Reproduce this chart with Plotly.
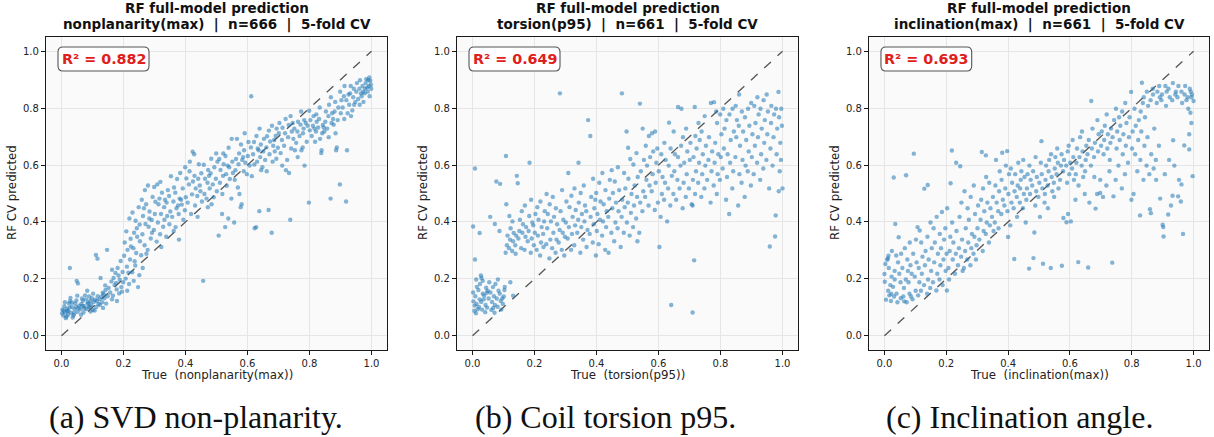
import plotly.graph_objects as go

# ---------------- data (per-mille units: (true, predicted)) ----------------
pts_a = [
(3,92),(6,71),(12,83),(9,104),(14,62),(17,95),(21,74),(24,113),(19,88),(27,121),(31,81),(33,102),(36,64),(29,133),(42,93),(44,114),(39,72),(47,101),(52,84),(48,124),(55,97),(51,141),(27,238),(49,193),(53,184),(2,79),(11,118),(22,86),(7,88),(16,68),(34,117),(41,79),(57,106),(26,99),
(61,93),(64,112),(66,131),(71,82),(73,104),(69,123),(76,142),(81,94),(84,113),(79,128),(86,117),(91,103),(93,122),(89,138),(96,109),(101,91),(98,132),(104,119),(102,148),(63,74),(83,158),(94,85),(74,96),(88,101),(108,127),(68,105),
(112,101),(114,122),(117,139),(111,284),(116,271),(122,128),(124,108),(126,203),(131,118),(133,151),(129,137),(138,132),(142,161),(144,113),(147,302),(149,139),(152,168),(134,98),(141,177),(107,89),(119,112),(136,146),
(157,152),(161,191),(163,128),(168,203),(171,178),(174,221),(166,141),(178,163),(181,238),(184,212),(179,122),(188,197),(191,263),(193,171),(186,149),(197,224),(199,188),(202,281),(204,328),(163,232),(176,186),(195,155),
(207,201),(211,243),(213,302),(209,367),(218,182),(221,268),(223,341),(219,412),(228,223),(232,308),(234,362),(229,433),(238,247),(241,291),(243,378),(239,404),(247,171),(251,213),(253,332),(249,452),(212,158),(224,314),(236,262),(244,348),(252,391),(216,222),(233,193),
(257,283),(261,357),(263,421),(259,478),(268,318),(271,393),(273,462),(269,512),(278,302),(281,383),(284,437),(279,528),(288,342),(291,407),(294,488),(298,372),(301,428),(303,471),(299,523),(262,238),(274,288),(292,362),(283,412),(266,448),
(307,331),(311,398),(313,462),(309,532),(318,357),(321,428),(324,503),(319,541),(328,383),(331,452),(334,478),(338,348),(341,421),(343,512),(339,468),(348,392),(351,437),(353,561),(347,491),(322,312),(332,408),(316,482),
(357,418),(361,472),(363,521),(368,382),(371,448),(373,551),(367,503),(378,428),(381,482),(383,572),(379,338),(388,461),(391,518),(393,408),(398,441),(401,487),(403,553),(399,592),(362,368),(386,478),(376,458),
(407,468),(411,532),(413,578),(418,428),(421,497),(423,647),(428,638),(431,458),(433,518),(429,562),(438,491),(441,552),(443,603),(439,418),(448,508),(451,571),(453,472),(414,612),(424,542),(446,528),
(457,193),(461,498),(463,552),(459,601),(468,482),(471,538),(473,583),(478,518),(481,571),(483,622),(488,532),(491,487),(493,592),(498,552),(501,508),(503,612),(499,641),(472,452),(484,462),(476,562),
(507,352),(511,538),(513,583),(509,621),(518,428),(521,562),(523,603),(519,498),(528,382),(531,568),(533,527),(529,632),(538,412),(541,592),(543,551),(539,661),(548,482),(551,612),(553,572),(549,692),(522,641),(536,598),
(557,398),(561,582),(563,621),(559,548),(566,692),(571,603),(573,641),(569,521),(578,452),(581,462),(583,618),(579,672),(588,578),(591,712),(593,608),(589,652),(598,568),(601,632),(603,681),(574,498),(586,628),
(612,842),(607,598),(611,662),(614,561),(618,638),(621,681),(623,378),(628,382),(631,612),(633,658),(629,702),(638,438),(641,628),(643,672),(639,728),(648,592),(651,648),(653,692),(622,602),(644,582),(636,652),
(657,618),(661,662),(663,701),(668,442),(671,638),(673,683),(669,721),(678,362),(681,612),(683,668),(679,738),(688,648),(691,702),(693,622),(698,661),(701,712),(703,748),(662,578),(694,728),(686,688),
(707,642),(711,688),(713,731),(718,668),(721,712),(723,762),(728,618),(731,698),(733,741),(738,408),(741,658),(743,718),(739,772),(748,692),(751,728),(753,652),(712,598),(724,582),(734,572),(746,748),
(757,678),(761,718),(763,752),(768,702),(771,742),(773,788),(778,662),(781,728),(783,758),(779,712),(788,748),(791,682),(798,468),(801,722),(803,758),(799,791),(762,628),(784,598),(774,652),(794,738),
(807,702),(811,738),(813,772),(818,682),(821,718),(823,752),(828,732),(831,762),(833,802),(838,642),(841,712),(843,741),(839,652),(848,718),(851,752),(853,788),(822,778),(834,692),(846,732),(816,728),
(857,728),(861,772),(863,812),(868,482),(871,748),(873,782),(869,838),(878,742),(881,788),(883,822),(888,662),(891,758),(893,802),(886,652),(898,532),(901,782),(903,828),(899,858),(862,698),(884,712),(876,762),
(907,802),(911,842),(913,878),(918,472),(921,652),(923,782),(919,828),(928,812),(931,852),(933,878),(938,792),(941,838),(943,868),(948,822),(951,858),(953,888),(912,762),(934,772),(926,848),(944,812),
(957,832),(961,868),(963,898),(968,842),(971,878),(973,858),(978,852),(981,888),(983,902),(979,868),(988,858),(991,878),(989,898),(993,908),(998,882),(996,896),(999,868),(962,812),(974,822),(986,872),(966,852),(994,842),
]

pts_b = [
(3,121),(6,88),(2,152),(11,79),(13,112),(9,139),(14,172),(12,198),(21,101),(23,128),(19,161),(24,182),(31,92),(28,119),(33,148),(29,203),(42,108),(38,141),(44,169),(41,83),(52,131),(49,158),(47,99),(54,188),(2,384),(8,268),(23,361),(8,588),(27,212),(33,193),(17,93),(36,128),(46,151),(7,106),
(61,91),(63,119),(58,152),(66,171),(72,108),(69,139),(74,182),(71,81),(81,102),(78,131),(84,158),(82,198),(91,122),(88,148),(93,92),(101,138),(98,112),(104,172),(57,418),(72,393),(87,368),(77,542),(89,534),(103,161),(96,131),(67,98),
(107,292),(111,318),(113,352),(109,462),(108,632),(118,308),(121,338),(123,378),(119,421),(128,298),(131,332),(133,361),(129,402),(138,318),(141,352),(143,562),(139,288),(148,342),(151,368),(153,408),(146,536),(131,141),(122,188),
(157,308),(161,362),(163,392),(159,438),(168,302),(171,348),(173,382),(169,458),(178,332),(181,368),(183,421),(184,608),(188,292),(191,342),(193,398),(189,478),(198,318),(201,362),(203,428),(196,388),
(207,302),(211,352),(213,408),(209,452),(218,282),(221,328),(223,382),(219,472),(228,358),(231,402),(233,438),(229,312),(238,322),(241,378),(243,428),(239,498),(248,272),(251,338),(253,402),(249,462),
(257,308),(261,362),(263,418),(259,488),(268,292),(271,338),(273,392),(269,448),(282,852),(278,328),(281,372),(284,438),(288,302),(291,362),(293,408),(289,512),(298,348),(301,398),(303,472),(296,282),
(309,572),(307,342),(311,382),(313,452),(318,302),(321,358),(323,418),(319,492),(328,318),(331,388),(333,442),(329,518),(342,608),(338,362),(341,408),(343,468),(348,292),(351,382),(353,428),(349,502),
(357,338),(361,402),(363,458),(359,528),(373,758),(368,312),(371,372),(367,438),(380,702),(378,358),(381,418),(383,488),(388,328),(391,392),(393,448),(389,552),(398,282),(401,368),(403,428),(399,502),(396,478),
(407,322),(411,408),(413,472),(409,538),(418,352),(421,402),(423,462),(419,572),(428,302),(431,382),(433,438),(429,512),(438,418),(441,482),(443,548),(439,292),(448,362),(451,448),(453,502),(449,582),
(457,332),(461,398),(463,468),(459,542),(468,378),(471,438),(473,512),(469,592),(482,852),(478,312),(481,418),(483,478),(488,362),(491,452),(493,518),(489,572),(498,398),(501,468),(503,552),(502,661),(497,718),
(507,352),(511,432),(513,498),(509,621),(518,382),(521,458),(523,528),(519,602),(528,412),(531,488),(533,558),(529,642),(540,816),(538,362),(541,468),(543,578),(548,438),(551,508),(553,618),(549,728),(532,332),
(557,488),(561,548),(563,598),(559,668),(568,458),(571,528),(573,628),(569,702),(578,508),(581,568),(583,648),(579,712),(588,442),(591,538),(593,608),(589,718),(603,312),(598,468),(601,578),(596,658),
(607,418),(611,498),(613,558),(609,638),(618,478),(621,538),(623,618),(619,678),(628,402),(631,518),(633,598),(634,749),(641,108),(638,458),(643,562),(639,658),(648,498),(651,578),(653,638),(649,718),
(657,478),(661,548),(663,628),(663,804),(668,518),(671,598),(673,668),(674,798),(678,448),(681,538),(683,608),(679,698),(688,488),(691,568),(693,648),(689,728),(698,518),(701,618),(703,678),(710,458),
(710,82),(715,265),(707,462),(711,548),(713,628),(717,804),(718,498),(721,578),(723,658),(719,702),(728,538),(731,608),(733,688),(729,748),(738,488),(741,568),(743,638),(739,718),(748,518),(751,598),(753,668),(749,772),
(757,548),(761,618),(763,698),(769,818),(768,468),(771,578),(773,648),(779,821),(778,528),(781,608),(783,678),(786,788),(788,498),(791,568),(793,638),(789,748),(798,548),(801,628),(803,708),(799,778),
(807,588),(811,658),(813,728),(809,798),(818,478),(821,558),(823,638),(819,758),(828,428),(831,608),(833,688),(829,778),(838,518),(841,578),(843,718),(839,798),(848,628),(851,698),(853,758),(849,808),(860,848),
(857,458),(861,568),(863,668),(859,738),(868,538),(871,618),(873,718),(869,788),(878,488),(881,598),(883,688),(879,768),(888,578),(891,648),(893,738),(889,798),(898,528),(901,628),(903,708),(899,818),
(907,568),(911,668),(913,748),(909,808),(918,608),(921,698),(923,778),(919,838),(928,548),(931,638),(933,728),(929,798),(938,588),(941,678),(943,758),(939,828),(948,618),(951,708),(953,788),(949,848),
(959,314),(957,518),(961,658),(963,748),(964,808),(976,349),(978,423),(968,598),(971,698),(973,778),(981,638),(983,728),(979,798),(987,857),(988,508),(991,578),(993,678),(989,768),(1000,518),(995,618),(998,738),(996,798),
]

pts_c = [
(0,217),(1,190),(5,127),(3,252),(9,267),(12,158),(14,238),(11,272),(13,281),(21,122),(19,178),(23,208),(24,298),(31,138),(28,172),(33,228),(30,556),(35,393),(42,118),(39,148),(44,258),(46,346),(52,188),(48,218),(53,132),(54,288),(22,148),(33,198),(16,142),(38,282),
(61,138),(63,168),(58,238),(66,308),(70,564),(72,118),(69,198),(74,268),(81,148),(78,188),(84,248),(82,328),(95,640),(91,128),(88,218),(93,288),(101,158),(98,208),(104,258),(102,338),(64,121),(86,138),(76,228),
(107,382),(109,142),(113,188),(111,238),(114,370),(118,158),(121,218),(123,278),(119,328),(129,517),(128,178),(131,248),(133,298),(140,530),(138,148),(141,198),(143,268),(139,348),(148,168),(151,228),(153,308),(149,398),
(157,188),(161,258),(163,328),(159,378),(168,159),(171,218),(173,288),(169,418),(178,198),(181,248),(183,308),(179,358),(186,435),(188,178),(191,268),(193,338),(202,159),(198,228),(201,288),(197,378),(203,448),
(207,238),(218,651),(211,298),(213,348),(209,198),(214,536),(221,268),(223,328),(219,398),(232,608),(228,218),(231,288),(233,368),(245,596),(238,248),(241,308),(243,418),(248,278),(251,338),(253,228),(249,468),
(257,238),(261,298),(263,378),(259,508),(268,268),(271,328),(273,408),(269,448),(278,248),(281,308),(283,358),(279,488),(288,288),(291,348),(293,428),(289,528),(298,318),(301,378),(303,458),(296,268),
(315,646),(307,338),(311,408),(313,478),(328,634),(318,298),(321,368),(323,438),(319,518),(328,358),(331,398),(333,468),(329,558),(338,328),(341,388),(343,448),(339,538),(348,418),(351,488),(353,368),
(361,618),(357,398),(363,468),(359,528),(368,438),(371,508),(373,578),(369,378),(381,643),(378,428),(383,478),(379,548),(397,649),(388,458),(391,518),(393,598),(400,347),(398,438),(401,498),(403,568),
(407,388),(411,468),(413,538),(409,588),(420,270),(418,448),(421,508),(423,568),(428,488),(431,528),(433,608),(429,418),(438,468),(441,548),(443,578),(439,518),(448,448),(451,498),(453,558),(449,618),
(457,398),(461,518),(463,568),(459,478),(468,236),(471,498),(473,548),(469,598),(482,273),(485,363),(478,528),(481,578),(488,458),(491,508),(493,558),(489,628),(498,488),(501,538),(508,684),(503,418),
(513,253),(511,518),(509,568),(506,608),(518,468),(521,548),(523,598),(519,498),(528,528),(531,578),(533,618),(529,448),(538,238),(541,558),(543,508),(539,638),(548,538),(551,588),(553,628),(549,488),
(557,568),(561,608),(563,518),(559,658),(574,246),(568,548),(571,598),(573,638),(579,414),(589,399),(578,578),(581,618),(594,428),(591,538),(593,648),(588,598),(603,402),(598,568),(601,608),(596,668),
(607,588),(611,628),(613,548),(609,688),(618,478),(621,608),(623,658),(619,568),(627,259),(628,528),(631,628),(633,698),(638,598),(641,648),(643,558),(639,718),(648,498),(651,618),(653,668),(649,578),
(659,240),(657,638),(661,688),(663,468),(669,825),(668,598),(671,658),(673,728),(683,447),(678,628),(681,678),(679,558),(688,498),(691,648),(693,708),(689,758),(698,548),(701,668),(703,718),(698,502),
(707,488),(711,688),(713,738),(709,638),(718,528),(721,658),(723,708),(719,778),(728,578),(731,678),(733,728),(729,618),(737,257),(741,490),(738,698),(743,758),(748,548),(751,658),(753,718),(749,798),
(757,598),(761,688),(763,738),(759,768),(768,518),(771,638),(773,708),(769,788),(778,568),(781,668),(783,748),(779,818),(788,608),(791,698),(793,768),(798,857),(799,478),(801,658),(803,718),(806,498),
(811,638),(813,738),(809,798),(818,578),(821,688),(823,758),(827,423),(833,889),(828,618),(831,718),(829,788),(836,818),(838,548),(841,668),(843,768),(839,838),(848,598),(851,698),(853,808),(849,858),
(859,445),(862,431),(857,568),(863,638),(861,828),(868,868),(871,588),(873,728),(869,848),(878,618),(881,818),(883,858),(879,548),(892,482),(888,668),(891,838),(889,878),(900,390),(902,382),(903,349),(898,848),(896,828),
(907,568),(911,808),(913,858),(909,878),(918,426),(921,618),(923,838),(919,868),(927,458),(932,492),(934,687),(931,828),(933,888),(938,598),(941,848),(943,858),(950,490),(959,472),(948,838),(951,878),
(961,532),(966,358),(953,548),(963,818),(961,858),(970,669),(971,848),(973,878),(977,828),(986,708),(983,798),(981,838),(988,868),(986,655),(990,784),(993,838),(991,858),(997,561),(1000,825),(995,848),(993,748),
]

targets = ["nonplanarity(max)", "torsion(p95)", "inclination(max)"]
n_vals = [666, 661, 661]
r2_vals = [0.882, 0.649, 0.693]
captions = ["(a) SVD non-planarity.", "(b) Coil torsion p95.", "(c) Inclination angle."]
tick_vals = [0.0, 0.2, 0.4, 0.6, 0.8, 1.0]
tick_text = ["0.0", "0.2", "0.4", "0.6", "0.8", "1.0"]

true_vals = [[p[0] / 1000 for p in pts] for pts in (pts_a, pts_b, pts_c)]
pred_vals = [[p[1] / 1000 for p in pts] for pts in (pts_a, pts_b, pts_c)]

# ---------------- layout ----------------
W, H = 1214, 437
frames_px = [(46, 387), (457, 798), (869, 1209)]
top_px, bot_px = 37, 350
cap_centers = [196, 605, 1019]
FW, FH = 341, 313

fig = go.Figure()
ann = []
shapes = []
for i in range(3):
    sx = "" if i == 0 else str(i + 1)
    xa, ya = "x" + sx, "y" + sx
    fig.add_trace(go.Scatter(x=[0, 1], y=[0, 1], mode="lines", xaxis=xa, yaxis=ya,
                             line=dict(color="rgba(55,55,55,0.85)", width=1.3, dash="dash"),
                             hoverinfo="skip", showlegend=False))
    fig.add_trace(go.Scatter(x=true_vals[i], y=pred_vals[i], mode="markers", xaxis=xa, yaxis=ya,
                             marker=dict(color="#1f77b4", size=4.4, opacity=0.55, line=dict(width=0)),
                             showlegend=False))
    x0, x1 = frames_px[i]
    axcommon = dict(range=[-0.05, 1.05], tickvals=tick_vals, ticktext=tick_text,
                    showgrid=True, gridcolor="#e6e6e6", gridwidth=0.8, zeroline=False,
                    showline=True, linecolor="#1a1a1a", linewidth=1.3, mirror=True,
                    ticks="outside", ticklen=4, tickcolor="#1a1a1a", tickwidth=1,
                    tickfont=dict(family="DejaVu Sans", size=10, color="#222"))
    fig.layout["xaxis" + sx] = dict(domain=[x0 / W, x1 / W], anchor=ya, **axcommon)
    fig.layout["yaxis" + sx] = dict(domain=[1 - bot_px / H, 1 - top_px / H], anchor=xa, **axcommon)
    cx = (x0 + x1) / 2 / W
    tfont = dict(family="DejaVu Sans", size=13.5, color="#111")
    ann.append(dict(xref="paper", yref="paper", x=cx, y=1 - 8.5 / H, xanchor="center", yanchor="middle",
                    text="<b>RF full-model prediction</b>", showarrow=False, font=tfont))
    ann.append(dict(xref="paper", yref="paper", x=cx, y=1 - 24.5 / H, xanchor="center", yanchor="middle",
                    text="<b>%s  |  n=%d  |  5-fold CV</b>" % (targets[i], n_vals[i]), showarrow=False, font=tfont))
    ann.append(dict(xref="paper", yref="paper", x=cx, y=1 - 375 / H, xanchor="center", yanchor="middle",
                    text="True  (%s)" % targets[i], showarrow=False,
                    font=dict(family="DejaVu Sans", size=11.8, color="#222")))
    ann.append(dict(xref="paper", yref="paper", x=(x0 - 34) / W, y=1 - 193 / H, xanchor="center", yanchor="middle",
                    text="RF CV predicted", textangle=-90, showarrow=False,
                    font=dict(family="DejaVu Sans", size=11.8, color="#222")))
    # rounded R2 box
    bx0, bx1 = 12 / FW, 103 / FW
    by1, by0 = 1 - 10 / FH, 1 - 34 / FH
    rx, ry = 5 / FW, 5 / FH
    path = ("M %f,%f L %f,%f Q %f,%f %f,%f L %f,%f Q %f,%f %f,%f L %f,%f Q %f,%f %f,%f L %f,%f Q %f,%f %f,%f Z" % (
        bx0 + rx, by1, bx1 - rx, by1, bx1, by1, bx1, by1 - ry, bx1, by0 + ry, bx1, by0, bx1 - rx, by0,
        bx0 + rx, by0, bx0, by0, bx0, by0 + ry, bx0, by1 - ry, bx0, by1, bx0 + rx, by1))
    shapes.append(dict(type="path", xref=xa + " domain", yref=ya + " domain", path=path,
                       fillcolor="white", line=dict(color="#555", width=1.1), layer="above"))
    ann.append(dict(xref=xa + " domain", yref=ya + " domain", x=(bx0 + bx1) / 2, y=(by0 + by1) / 2,
                    xanchor="center", yanchor="middle", text="<b>R² = %.3f</b>" % r2_vals[i],
                    showarrow=False, font=dict(family="DejaVu Sans", size=14.3, color="#e0201b")))
    ann.append(dict(xref="paper", yref="paper", x=cap_centers[i] / W, y=1 - 417 / H, xanchor="center", yanchor="middle",
                    text=captions[i], showarrow=False,
                    font=dict(family="Liberation Serif", size=32, color="#111")))

fig.update_layout(width=W, height=H, margin=dict(l=0, r=0, t=0, b=0),
                  paper_bgcolor="white", plot_bgcolor="#fafafa", annotations=ann, shapes=shapes,
                  showlegend=False)
fig.write_html("out.html", config={"displayModeBar": False},
               post_script="document.body.style.margin='0';document.body.style.overflow='hidden';")
